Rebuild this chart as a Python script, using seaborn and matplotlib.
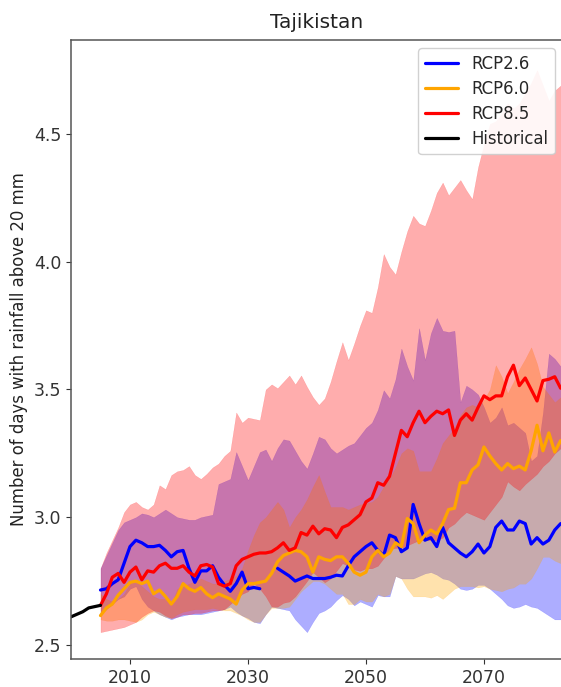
import matplotlib
matplotlib.use("Agg")
import matplotlib.pyplot as plt
import numpy as np
import pandas as pd
import seaborn as sns

hist_years = [2000, 2001, 2002, 2003, 2004, 2005]
hist_mean = [2.61, 2.62, 2.63, 2.645, 2.65, 2.655]

years = list(range(2005, 2084))

# Yearly values, nan where the line is broken
rcp26_mean = [2.715, 2.72, 2.74, 2.755, 2.82, 2.885, 2.91, 2.90, 2.885, 2.885,
              2.89, 2.87, 2.845, 2.865, 2.87, 2.80, 2.745, 2.79, 2.79, 2.81,
              2.765, 2.735, 2.71, 2.74, 2.785, 2.72, 2.725, 2.72, np.nan, np.nan,
              2.80, 2.785, 2.77, 2.75, 2.76, 2.77, 2.76, 2.76, 2.76, 2.765,
              2.773, 2.77, 2.81, 2.845, 2.865, 2.885, 2.90, 2.87, 2.85, 2.93,
              2.92, 2.865, 2.88, 3.05, 2.975, 2.91, 2.92, 2.885, 2.96, 2.90,
              2.88, 2.86, 2.845, 2.865, 2.895, 2.86, 2.885, 2.96, 2.985, 2.95,
              2.95, 2.985, 2.975, 2.895, 2.92, 2.895, 2.91, 2.95, 2.975]
rcp26_low = [2.62, 2.64, 2.66, 2.68, 2.69, 2.72, 2.73, 2.68, 2.65, 2.635,
             2.62, 2.61, 2.60, 2.61, 2.615, 2.62, 2.62, 2.62, 2.625, 2.63,
             2.635, 2.64, 2.65, 2.63, 2.615, 2.605, 2.59, 2.585, 2.62, 2.65,
             2.645, 2.64, 2.635, 2.60, 2.575, 2.55, 2.59, 2.625, 2.635, 2.65,
             2.675, 2.695, 2.68, 2.655, 2.67, 2.66, 2.65, 2.695, 2.69, 2.69,
             2.77, 2.76, 2.76, 2.76, 2.77, 2.78, 2.785, 2.775, 2.76, 2.755,
             2.74, 2.72, 2.715, 2.72, 2.735, 2.735, 2.72, 2.70, 2.68, 2.655,
             2.645, 2.65, 2.66, 2.65, 2.645, 2.63, 2.615, 2.60, 2.60]
rcp26_high = [2.80, 2.85, 2.90, 2.95, 2.98, 2.99, 3.00, 3.015, 3.01, 3.00,
              3.015, 3.03, 3.015, 3.00, 2.995, 2.99, 2.99, 3.00, 3.005, 3.01,
              3.13, 3.14, 3.15, 3.255, 3.20, 3.145, 3.20, 3.255, 3.265, 3.22,
              3.27, 3.305, 3.30, 3.26, 3.22, 3.19, 3.25, 3.315, 3.305, 3.27,
              3.25, 3.265, 3.28, 3.29, 3.32, 3.35, 3.37, 3.42, 3.497, 3.465,
              3.54, 3.66, 3.59, 3.535, 3.74, 3.615, 3.72, 3.78, 3.73, 3.725,
              3.73, 3.45, 3.515, 3.50, 3.48, 3.43, 3.37, 3.39, 3.43, 3.36,
              3.37, 3.35, 3.33, 3.22, 3.24, 3.41, 3.64, 3.62, 3.59]

rcp60_mean = [2.615, 2.645, 2.66, 2.695, 2.72, 2.745, 2.75, 2.74, 2.75, 2.70,
              2.715, 2.69, 2.66, 2.69, 2.74, 2.72, 2.71, 2.725, 2.70, 2.685,
              2.70, 2.69, 2.68, 2.66, 2.715, 2.74, 2.74, 2.745, 2.75, 2.78,
              2.825, 2.85, 2.86, 2.87, 2.865, 2.845, 2.785, 2.845, 2.835, 2.83,
              2.845, 2.845, 2.82, 2.785, 2.773, 2.785, 2.845, 2.87, 2.845, 2.86,
              2.90, 2.885, 2.995, 2.975, 2.90, 2.93, 2.95, 2.935, 2.975, 3.03,
              3.035, 3.135, 3.135, 3.185, 3.205, 3.275, 3.24, 3.21, 3.185, 3.21,
              3.19, 3.20, 3.185, 3.26, 3.36, 3.26, 3.33, 3.255, 3.30]
rcp60_low = [2.60, 2.595, 2.595, 2.60, 2.60, 2.595, 2.59, 2.60, 2.62, 2.63,
             2.62, 2.61, 2.605, 2.62, 2.63, 2.635, 2.64, 2.64, 2.64, 2.645,
             2.64, 2.635, 2.635, 2.625, 2.615, 2.60, 2.59, 2.59, 2.62, 2.645,
             2.645, 2.645, 2.65, 2.68, 2.71, 2.73, 2.75, 2.75, 2.74, 2.72,
             2.70, 2.70, 2.66, 2.66, 2.68, 2.67, 2.67, 2.70, 2.69, 2.70,
             2.77, 2.76, 2.72, 2.69, 2.69, 2.69, 2.685, 2.695, 2.68, 2.70,
             2.72, 2.73, 2.73, 2.73, 2.725, 2.73, 2.72, 2.715, 2.71, 2.72,
             2.725, 2.74, 2.74, 2.76, 2.80, 2.845, 2.845, 2.83, 2.82]
rcp60_high = [2.70, 2.68, 2.67, 2.68, 2.70, 2.74, 2.75, 2.73, 2.71, 2.69,
              2.68, 2.68, 2.66, 2.72, 2.73, 2.74, 2.75, 2.76, 2.75, 2.74,
              2.74, 2.75, 2.76, 2.77, 2.80, 2.87, 2.93, 2.98, 3.00, 3.03,
              3.06, 3.03, 2.96, 3.00, 3.03, 3.07, 3.12, 3.165, 3.10, 3.04,
              3.04, 3.04, 3.03, 3.04, 3.05, 3.055, 3.06, 3.08, 3.12, 3.15,
              3.195, 3.25, 3.27, 3.26, 3.18, 3.18, 3.18, 3.23, 3.29, 3.32,
              3.35, 3.40, 3.43, 3.44, 3.43, 3.46, 3.50, 3.595, 3.55, 3.485,
              3.53, 3.58, 3.62, 3.665, 3.60, 3.51, 3.48, 3.45, 3.47]

rcp85_mean = [2.655, 2.70, 2.765, 2.78, 2.745, 2.785, 2.805, 2.755, 2.79, 2.785,
              2.81, 2.82, 2.80, 2.80, 2.81, 2.785, 2.77, 2.81, 2.815, 2.805,
              2.74, 2.73, 2.74, 2.81, 2.835, 2.845, 2.855, 2.86, 2.86, 2.865,
              2.88, 2.90, 2.87, 2.88, 2.94, 2.93, 2.965, 2.935, 2.955, 2.95,
              2.92, 2.96, 2.97, 2.99, 3.01, 3.06, 3.075, 3.135, 3.125, 3.16,
              3.25, 3.34, 3.315, 3.37, 3.415, 3.37, 3.395, 3.415, 3.405, 3.42,
              3.32, 3.38, 3.405, 3.38, 3.43, 3.475, 3.46, 3.475, 3.475, 3.55,
              3.595, 3.515, 3.545, 3.50, 3.455, 3.535, 3.54, 3.55, 3.505]
rcp85_low = [2.55, 2.555, 2.56, 2.565, 2.57, 2.58, 2.59, 2.61, 2.625, 2.635,
             2.63, 2.615, 2.605, 2.61, 2.62, 2.62, 2.625, 2.625, 2.63, 2.635,
             2.635, 2.64, 2.66, 2.68, 2.70, 2.71, 2.74, 2.72, 2.69, 2.65,
             2.65, 2.665, 2.67, 2.69, 2.72, 2.75, 2.785, 2.765, 2.745, 2.76,
             2.79, 2.82, 2.81, 2.795, 2.79, 2.80, 2.80, 2.81, 2.84, 2.875,
             2.88, 2.88, 2.89, 2.90, 2.91, 2.91, 2.91, 2.91, 2.92, 2.96,
             2.975, 3.00, 3.02, 3.01, 3.00, 2.99, 3.02, 3.05, 3.08, 3.14,
             3.12, 3.105, 3.13, 3.15, 3.17, 3.20, 3.22, 3.25, 3.27]
rcp85_high = [2.80, 2.86, 2.91, 2.96, 3.02, 3.05, 3.06, 3.04, 3.03, 3.05,
              3.125, 3.11, 3.165, 3.18, 3.185, 3.20, 3.165, 3.15, 3.17, 3.195,
              3.21, 3.24, 3.26, 3.41, 3.37, 3.39, 3.385, 3.38, 3.50, 3.52,
              3.505, 3.53, 3.555, 3.52, 3.555, 3.51, 3.47, 3.44, 3.465, 3.53,
              3.61, 3.685, 3.615, 3.68, 3.75, 3.81, 3.80, 3.90, 4.03, 3.98,
              3.95, 4.04, 4.12, 4.18, 4.15, 4.14, 4.20, 4.27, 4.31, 4.26,
              4.29, 4.32, 4.28, 4.245, 4.37, 4.46, 4.54, 4.55, 4.58, 4.62,
              4.60, 4.62, 4.66, 4.70, 4.75, 4.69, 4.63, 4.67, 4.69]

series = [
    ("RCP2.6", "blue", rcp26_mean, rcp26_low, rcp26_high),
    ("RCP6.0", "orange", rcp60_mean, rcp60_low, rcp60_high),
    ("RCP8.5", "red", rcp85_mean, rcp85_low, rcp85_high),
]

sns.set_style("ticks")
plt.rcParams["font.family"] = ["DejaVu Sans"]

fig = plt.figure(figsize=(5.61, 6.87), dpi=100)
# the right edge of the axes falls just outside the picture
ax = fig.add_axes([71 / 561, 1 - 659 / 687, 492 / 561, 619 / 687])

# Shaded ranges first, so that all lines stay on top
for name, color, mean, low, high in series:
    ax.fill_between(years, low, high, color=color, alpha=0.32, linewidth=0.2)

for name, color, mean, low, high in series:
    df = pd.DataFrame({"year": years, "value": mean})
    df["part"] = df["value"].isna().cumsum()
    df = df.dropna()
    sns.lineplot(data=df, x="year", y="value", units="part", estimator=None,
                 color=color, lw=2.3, label=name, ax=ax)

sns.lineplot(x=hist_years, y=hist_mean, color="black", lw=2.3, label="Historical", ax=ax)

ax.set_xlim(2000, 2083.4)
ax.set_ylim(2.445, 4.868)
ax.set_xticks([2010, 2030, 2050, 2070])
ax.set_yticks([2.5, 3.0, 3.5, 4.0, 4.5])
ax.tick_params(labelsize=12.5, colors="#333333", color="#333333")
ax.set_xlabel("")
ax.set_ylabel("Number of days with rainfall above 20 mm", fontsize=11.9, color="#222222", labelpad=4)
ax.set_title("Tajikistan", fontsize=14.5, color="#222222", pad=9)

for spine in ax.spines.values():
    spine.set_color("#555555")
    spine.set_linewidth(1.1)

# units give one legend entry per line part, keep only the first of each
handles, labels = ax.get_legend_handles_labels()
unique = dict(zip(reversed(labels), reversed(handles)))
names = ["RCP2.6", "RCP6.0", "RCP8.5", "Historical"]
ax.legend([unique[n] for n in names], names, loc="upper right", fontsize=11.9, framealpha=0.9,
          borderaxespad=0.5, handlelength=2.0, handletextpad=0.8, labelspacing=0.42,
          borderpad=0.4)

fig.savefig("out.png", dpi=100)
